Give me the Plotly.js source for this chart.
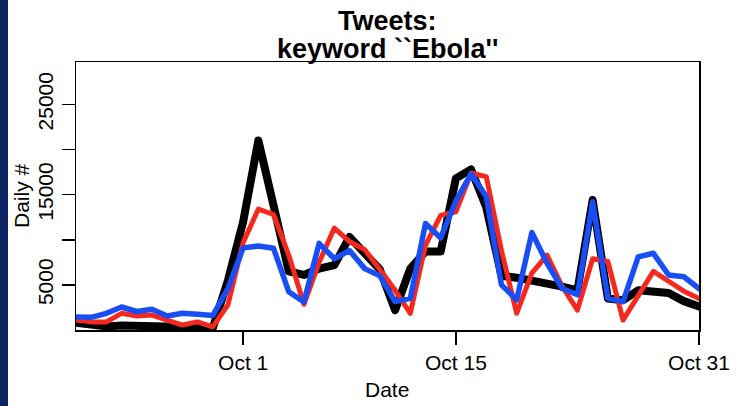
<!DOCTYPE html>
<html>
<head>
<meta charset="utf-8">
<script src="https://cdn.plot.ly/plotly-3.0.1.min.js"></script>
<style>
  html, body { margin: 0; padding: 0; background: #ffffff; }
  #chart { width: 742px; height: 406px; }
</style>
</head>
<body>
<div id="chart"></div>
<script>
// Dates: Sep 20 – Oct 31, 2014
const dates = [
  "2014-09-20","2014-09-21","2014-09-22","2014-09-23","2014-09-24","2014-09-25","2014-09-26",
  "2014-09-27","2014-09-28","2014-09-29","2014-09-30","2014-10-01","2014-10-02","2014-10-03",
  "2014-10-04","2014-10-05","2014-10-06","2014-10-07","2014-10-08","2014-10-09","2014-10-10",
  "2014-10-11","2014-10-12","2014-10-13","2014-10-14","2014-10-15","2014-10-16","2014-10-17",
  "2014-10-18","2014-10-19","2014-10-20","2014-10-21","2014-10-22","2014-10-23","2014-10-24",
  "2014-10-25","2014-10-26","2014-10-27","2014-10-28","2014-10-29","2014-10-30","2014-10-31"
];

const blackSeries = [
  800, 500, 400, 500, 500, 500, 400, 300, 300, 200,
  5500, 12000, 21000, 13800, 6500, 6100, 6800, 7200, 10300, 8500,
  6700, 2200, 6800, 8700, 8700, 16800, 17800, 13600, 6000, 5800,
  5500, 5300, 4800, 4400, 14400, 3500, 3300, 4400, 4300, 4100,
  3200, 2600
];

const redSeries = [
  1100, 900, 900, 1850, 1550, 1650, 1100, 550, 900, 350,
  2800, 9700, 13400, 12800, 8300, 2850, 7500, 11300, 9800, 8900,
  6700, 4400, 1850, 9400, 12700, 13100, 17400, 17000, 8800, 1850,
  6300, 8300, 4800, 2200, 7900, 7600, 1100, 3900, 6500, 5400,
  4300, 3500
];

const blueSeries = [
  1450, 1400, 1850, 2550, 2050, 2300, 1550, 1850, 1750, 1600,
  4600, 9100, 9300, 9050, 4250, 3100, 9600, 7900, 8800, 6800,
  6000, 3150, 3500, 11800, 10200, 14300, 17300, 14800, 5000, 3350,
  10800, 7400, 4600, 3900, 14200, 3500, 3150, 8100, 8500, 6100,
  5900, 4600
];

const yTickVals = [5000, 10000, 15000, 20000, 25000];
const yTickText = ["5000", "", "15000", "", "25000"];
const xTickVals = ["2014-10-01", "2014-10-15", "2014-10-31"];
const xTickText = ["Oct 1", "Oct 15", "Oct 31"];

const FONT = "Liberation Sans, Arial, Helvetica, sans-serif";

const traces = [
  { x: dates, y: blackSeries, type: "scatter", mode: "lines",
    line: { color: "#000000", width: 8 }, hoverinfo: "skip" },
  { x: dates, y: redSeries, type: "scatter", mode: "lines",
    line: { color: "#f5281e", width: 5 }, hoverinfo: "skip" },
  { x: dates, y: blueSeries, type: "scatter", mode: "lines",
    line: { color: "#1a4ef5", width: 5.5 }, hoverinfo: "skip" }
];

const layout = {
  width: 742, height: 406,
  margin: { l: 76, r: 43, t: 62, b: 76, pad: 0 },
  paper_bgcolor: "#ffffff", plot_bgcolor: "#ffffff",
  showlegend: false,
  font: { family: FONT, size: 21, color: "#000000" },
  xaxis: {
    type: "date",
    range: ["2014-09-20", "2014-10-31"],
    tickmode: "array", tickvals: xTickVals, ticktext: xTickText,
    ticks: "outside", ticklen: 13, tickwidth: 1.5, tickcolor: "#000",
    showline: true, mirror: true, linecolor: "#000", linewidth: 1.5,
    showgrid: false, zeroline: false,
    tickfont: { family: FONT, size: 21, color: "#000" },
    automargin: false, fixedrange: true
  },
  yaxis: {
    range: [0, 29700],
    tickmode: "array", tickvals: yTickVals, ticktext: yTickText,
    tickangle: -90,
    ticks: "outside", ticklen: 13, tickwidth: 1.5, tickcolor: "#000",
    showline: true, mirror: true, linecolor: "#000", linewidth: 1.5,
    showgrid: false, zeroline: false,
    tickfont: { family: FONT, size: 21, color: "#000" },
    automargin: false, fixedrange: true
  },
  shapes: [
    { type: "rect", xref: "paper", yref: "paper",
      x0: -76/623, x1: -68/623, y0: -76/268, y1: 330/268,
      fillcolor: "#0c2461", line: { width: 0 }, layer: "above" }
  ],
  annotations: [
    { text: "<b>Tweets:</b>", xref: "paper", yref: "paper", x: 0.5, y: (330-21)/268,
      xanchor: "center", yanchor: "middle", showarrow: false,
      font: { family: FONT, size: 27, color: "#000" } },
    { text: "<b>keyword ``Ebola''</b>", xref: "paper", yref: "paper", x: 0.5, y: (330-49)/268,
      xanchor: "center", yanchor: "middle", showarrow: false,
      font: { family: FONT, size: 27, color: "#000" } },
    { text: "Date", xref: "paper", yref: "paper", x: (387-76)/623, y: (330-389)/268,
      xanchor: "center", yanchor: "middle", showarrow: false,
      font: { family: FONT, size: 21, color: "#000" } },
    { text: "Daily #", xref: "paper", yref: "paper", x: (21-76)/623, y: 0.5,
      xanchor: "center", yanchor: "middle", textangle: -90, showarrow: false,
      font: { family: FONT, size: 21, color: "#000" } }
  ]
};

Plotly.newPlot("chart", traces, layout, { staticPlot: true, displayModeBar: false }).then(function () {
  document.querySelectorAll("#chart .js-line").forEach(function (p) {
    p.style.strokeLinejoin = "round";
    p.style.strokeLinecap = "round";
  });
});
</script>
</body>
</html>
